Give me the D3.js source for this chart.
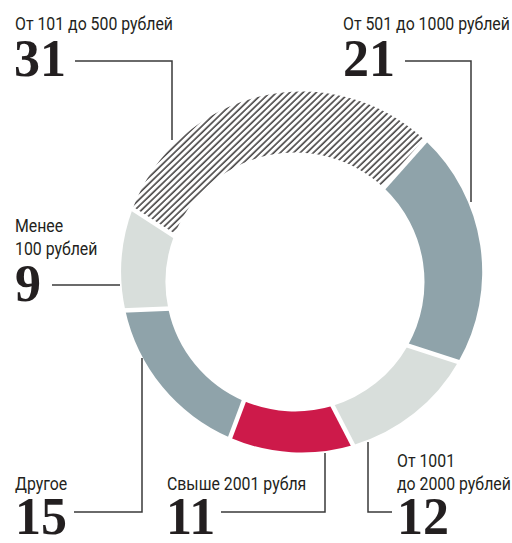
<!DOCTYPE html>
<html>
<head>
<meta charset="utf-8">
<script src="https://cdn.jsdelivr.net/npm/d3@7"></script>
<style>
  body { margin: 0; background: #fff; }
  .lbl { font-family: "Roboto", "Liberation Sans", sans-serif; font-size: 18px; fill: #231f20; }
  .num { font-family: "Liberation Serif", serif; font-weight: bold; font-size: 52px; fill: #231f20; }
</style>
</head>
<body>
<svg id="chart" width="512" height="543"></svg>
<script>
// data, clockwise from the hatched slice
var categories = ["От 101 до 500 рублей", "От 501 до 1000 рублей", "От 1001 до 2000 рублей",
                  "Свыше 2001 рубля", "Другое", "Менее 100 рублей"];
var values = [31, 21, 12, 11, 15, 9];
var labelLines = [["От 101 до 500 рублей"], ["От 501 до 1000 рублей"], ["От 1001", "до 2000 рублей"],
                  ["Свыше 2001 рубля"], ["Другое"], ["Менее", "100 рублей"]];
var fills = ["url(#hatch)", "#8fa3aa", "#d8dedb", "#cd1a4a", "#8fa3aa", "#d8dedb"];

var svg = d3.select("#chart");

/*** hatch pattern ***/
var pat = svg.append("defs").append("pattern")
  .attr("id", "hatch")
  .attr("patternUnits", "userSpaceOnUse")
  .attr("width", 4.6)
  .attr("height", 10)
  .attr("patternTransform", "rotate(46)");
pat.append("line")
  .attr("x1", 1).attr("y1", 0).attr("x2", 1).attr("y2", 10)
  .attr("stroke", "#1a1718")
  .attr("stroke-width", 1.3);

/*** ring is slightly eccentric: outer and inner circles have different centres ***/
var outer = { x: 301.7, y: 272, r: 180.5 };
var inner = { x: 295, y: 282, r: 129.5 };

var start = -69.4 * Math.PI / 180;
var pie = d3.pie().sort(null).startAngle(start).endAngle(start + 2 * Math.PI);
var arcs = pie(values);

function pt(c, r, a) {
  return [c.x + r * Math.sin(a), c.y - r * Math.cos(a)];
}

function slicePath(d) {
  var p = d3.path();
  var o0 = pt(outer, outer.r, d.startAngle);
  var i1 = pt(inner, inner.r, d.endAngle);
  p.moveTo(o0[0], o0[1]);
  p.arc(outer.x, outer.y, outer.r, d.startAngle - Math.PI / 2, d.endAngle - Math.PI / 2);
  p.lineTo(i1[0], i1[1]);
  p.arc(inner.x, inner.y, inner.r, d.endAngle - Math.PI / 2, d.startAngle - Math.PI / 2, true);
  p.closePath();
  return p.toString();
}

svg.append("g").selectAll("path")
  .data(arcs)
  .join("path")
  .attr("d", slicePath)
  .attr("fill", (d, i) => fills[i]);

// white gaps between slices
svg.append("g").selectAll("line")
  .data(arcs)
  .join("line")
  .attr("x1", d => pt(inner, inner.r - 3, d.startAngle)[0])
  .attr("y1", d => pt(inner, inner.r - 3, d.startAngle)[1])
  .attr("x2", d => pt(outer, outer.r + 3, d.startAngle)[0])
  .attr("y2", d => pt(outer, outer.r + 3, d.startAngle)[1])
  .attr("stroke", "#fff")
  .attr("stroke-width", 4.5);

/*** labels ***/
var layout = [
  { x: 15,  y: 30,  nx: 14,  ny: 76,  lead: "M75,61H172V140" },
  { x: 343, y: 30,  nx: 343, ny: 76,  lead: "M405,61H471V202" },
  { x: 397, y: 467, nx: 397, ny: 534, lead: "M392,512H368V442" },
  { x: 167, y: 490, nx: 166, ny: 534, lead: "M221,512H325V453" },
  { x: 15,  y: 490, nx: 15,  ny: 534, lead: "M74,512H142V358" },
  { x: 15,  y: 232, nx: 15,  ny: 301, lead: "M52,285H120" }
];

// the labels use a condensed face; squeeze the regular one to the same width
var squeeze = 0.88;

var g = svg.append("g");
values.forEach((v, i) => {
  var L = layout[i];
  g.append("path")
    .attr("d", L.lead)
    .attr("fill", "none")
    .attr("stroke", "#3a3a3a")
    .attr("stroke-width", 1.5);
  labelLines[i].forEach((t, j) => {
    var txt = g.append("text")
      .attr("class", "lbl")
      .attr("x", L.x)
      .attr("y", L.y + j * 23)
      .text(t);
    var w = txt.node().getComputedTextLength();
    txt.attr("textLength", w * squeeze).attr("lengthAdjust", "spacingAndGlyphs");
  });
  g.append("text")
    .attr("class", "num")
    .attr("x", L.nx)
    .attr("y", L.ny)
    .text(v);
});
</script>
</body>
</html>
